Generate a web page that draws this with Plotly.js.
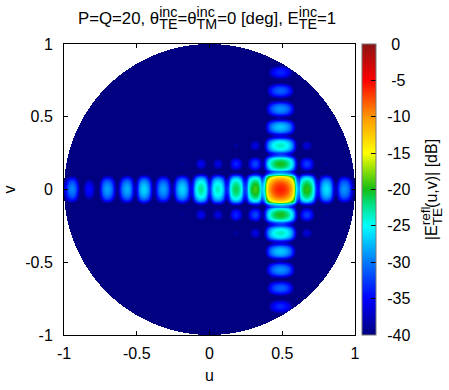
<!DOCTYPE html>
<html><head><meta charset="utf-8">
<script src="https://cdn.plot.ly/plotly-3.0.1.min.js"></script>
<style>html,body{margin:0;padding:0;background:#fff}#c{width:449px;height:390px}</style>
</head><body><div id="c"></div>
<script>
// Lobe centres
const lobeU=[-0.944,-0.83,-0.704,-0.566,-0.454,-0.32,-0.19,-0.06,0.06,0.185,0.32,0.49,0.67,0.806,0.925];
const nullU=[-1.005,-0.885,-0.765,-0.635,-0.51,-0.385,-0.255,-0.125,0,0.125,0.25,0.375,0.605,0.74,0.865,1.0];
const lobeV=[0,0.178,0.303,0.43,0.555,0.68,0.804];
const nullV=[0.113,0.24,0.366,0.49,0.617,0.742,0.87];
// Peak level in dB of each lobe (rows: lobeV, mirrored in v; columns: lobeU)
const N=-60;
const peak0=[-29,-34,-28,-27.5,-26,-28,-26,-22,-23,-20.5,-18.5,-5.5,-19,-25.5,-28.5];
const peak1=[N,N,N,N,-39,N,-38.5,-35,-35.5,-33,-31.5,-19.5,-32,-38.5,N];
const peak2=[N,N,N,N,N,N,N,N,N,-38,-35.5,-23,-36,N,N];
const peak3=[N,N,N,N,N,N,N,N,N,N,-39,-26.5,-40,N,N];
const peak4=[N,N,N,N,N,N,N,N,N,N,N,-28.5,N,N,N];
const peak5=[N,N,N,N,N,N,N,N,N,N,N,-30.5,N,N,N];
const peak6=[N,N,N,N,N,N,N,N,N,N,N,-33,N,N,N];
const peaks=[peak0,peak1,peak2,peak3,peak4,peak5,peak6];
// Lobe roll-off shape: dB below the peak at a fraction of the way to the null
const fallFrac=[0,0.25,0.5,0.7,0.85,0.95,1];
const fallDb=[0,0.6,2.5,5.5,10,15,24];
const tickVals=[-1,-0.5,0,0.5,1];
const tickText=['-1','-0.5','0','0.5','1'];
const cbVals=[-40,-35,-30,-25,-20,-15,-10,-5,0];
const cbText=['-40','-35','-30','-25','-20','-15','-10','-5','0'];

function fall(t){for(let i=1;i<fallFrac.length;i++){if(t<=fallFrac[i]){const a=(t-fallFrac[i-1])/(fallFrac[i]-fallFrac[i-1]);return fallDb[i-1]+a*(fallDb[i]-fallDb[i-1]);}}return 24;}
function locU(u){let k=0;while(k<lobeU.length-1&&u>nullU[k+1])k++;const c=lobeU[k];const e=u<c?nullU[k]:nullU[k+1];return [k,Math.min(1,Math.abs(u-c)/Math.abs(e-c))];}
function locV(w){let k=0;while(k<lobeV.length-1&&w>nullV[k])k++;const c=lobeV[k];const e=w<c?nullV[k-1]:nullV[k];return [k,Math.min(1,Math.abs(w-c)/Math.abs(e-c))];}
const cells=292;const xs=[],ys=[];
for(let i=0;i<cells;i++){xs.push(-1+(i+0.5)*2/cells);ys.push(-1+(i+0.5)*2/cells);}
const raw=ys.map(v=>xs.map(u=>{
  const [ku,fu]=locU(u);const [kv,fv]=locV(Math.abs(v));
  return Math.max(-42,peaks[kv][ku]-fall(fu)-fall(fv));
}));
// the reference's surface is soft: small box blur of the sampled lobes, then the unit-circle mask
const R=2;
const zs=ys.map((v,j)=>xs.map((u,i)=>{
  if(u*u+v*v>1)return null;
  let s=0,n=0;
  for(let b=Math.max(0,j-R);b<=Math.min(cells-1,j+R);b++)for(let a=Math.max(0,i-R);a<=Math.min(cells-1,i+R);a++){s+=raw[b][a];n++;}
  return Math.max(-40,s/n);
}));
const palette=[[0,'rgb(0,0,128)'],[0.125,'rgb(0,0,255)'],[0.25,'rgb(0,120,255)'],[0.375,'rgb(0,255,255)'],[0.45,'rgb(0,225,130)'],[0.5,'rgb(20,190,20)'],[0.56,'rgb(130,220,10)'],[0.625,'rgb(255,255,0)'],[0.75,'rgb(255,150,0)'],[0.875,'rgb(255,0,0)'],[1,'rgb(140,20,20)']];
const font={family:'"Liberation Sans",Arial,sans-serif',size:16,color:'#000'};
const titleFont=Object.assign({},font,{size:16.8});
const axis={range:[-1,1],tickmode:'array',tickvals:tickVals,ticktext:tickText,ticks:'inside',ticklen:4,tickcolor:'#000',tickwidth:1,mirror:'ticks',showline:true,linecolor:'#000',linewidth:1,showgrid:false,zeroline:false,layer:'above traces',tickfont:font};
const trace={type:'heatmap',x:xs,y:ys,z:zs,zmin:-40,zmax:0,colorscale:palette,zsmooth:false,hoverinfo:'skip',
 colorbar:{x:1.024,xanchor:'left',xpad:0,ypad:0,y:0.5,yanchor:'middle',len:1,lenmode:'fraction',thickness:14,thicknessmode:'pixels',outlinecolor:'#777',outlinewidth:1,
  tickmode:'array',tickvals:cbVals,ticktext:cbText,ticks:'inside',ticklen:5,tickcolor:'#000',tickfont:font,
  title:{text:'|E<sup>refl</sup><sub>TE</sub>(u,v)| [dB]',side:'right',font:font}}};
const layout={width:449,height:390,margin:{l:63.5,r:94,t:43.5,b:55,pad:0},paper_bgcolor:'#fff',plot_bgcolor:'#fff',showlegend:false,font:font,
 title:{text:'P=Q=20, θ<sup>inc</sup><sub>TE</sub>=θ<sup>inc</sup><sub>TM</sub>=0 [deg], E<sup>inc</sup><sub>TE</sub>=1',font:titleFont,x:78/449,xanchor:'left',y:0.953,yanchor:'middle'},
 xaxis:Object.assign({},axis,{ticklabelstandoff:4,title:{text:'u',font:font,standoff:8}}),
 yaxis:Object.assign({},axis,{ticklabelstandoff:7,title:{text:'v',font:font,standoff:5}})};
Plotly.newPlot('c',[trace],layout,{displayModeBar:false,staticPlot:true}).then(gd=>{
 // stack each subscript under its superscript at reference size and offsets
 gd.querySelectorAll('text').forEach(t=>{
  const spans=[...t.querySelectorAll('tspan')];let supW=0;
  spans.forEach((s,i)=>{
   const dy=s.getAttribute('dy');const nx=spans[i+1];
   if(dy==='-0.6em'){s.style.fontSize='85%';s.setAttribute('dy','-7px');if(nx)nx.setAttribute('dy','7px');supW=s.getComputedTextLength();}
   else if(dy==='0.3em'){s.style.fontSize='85%';s.setAttribute('dy','5px');if(nx)nx.setAttribute('dy','-5px');if(supW){s.setAttribute('dx',-supW);supW=0;}}
  });
 });
 // colorbar label gaps as in the reference
 gd.querySelectorAll('.cbaxis text').forEach(t=>{
  const extra=t.textContent.length<3?11:7;t.setAttribute('x',parseFloat(t.getAttribute('x')||0)+extra);
 });
 const cbt=gd.querySelector('.cbtitle');
 if(cbt){const old=cbt.getAttribute('transform')||'';cbt.setAttribute('transform','translate(15,0) '+old);}
});
</script></body></html>
